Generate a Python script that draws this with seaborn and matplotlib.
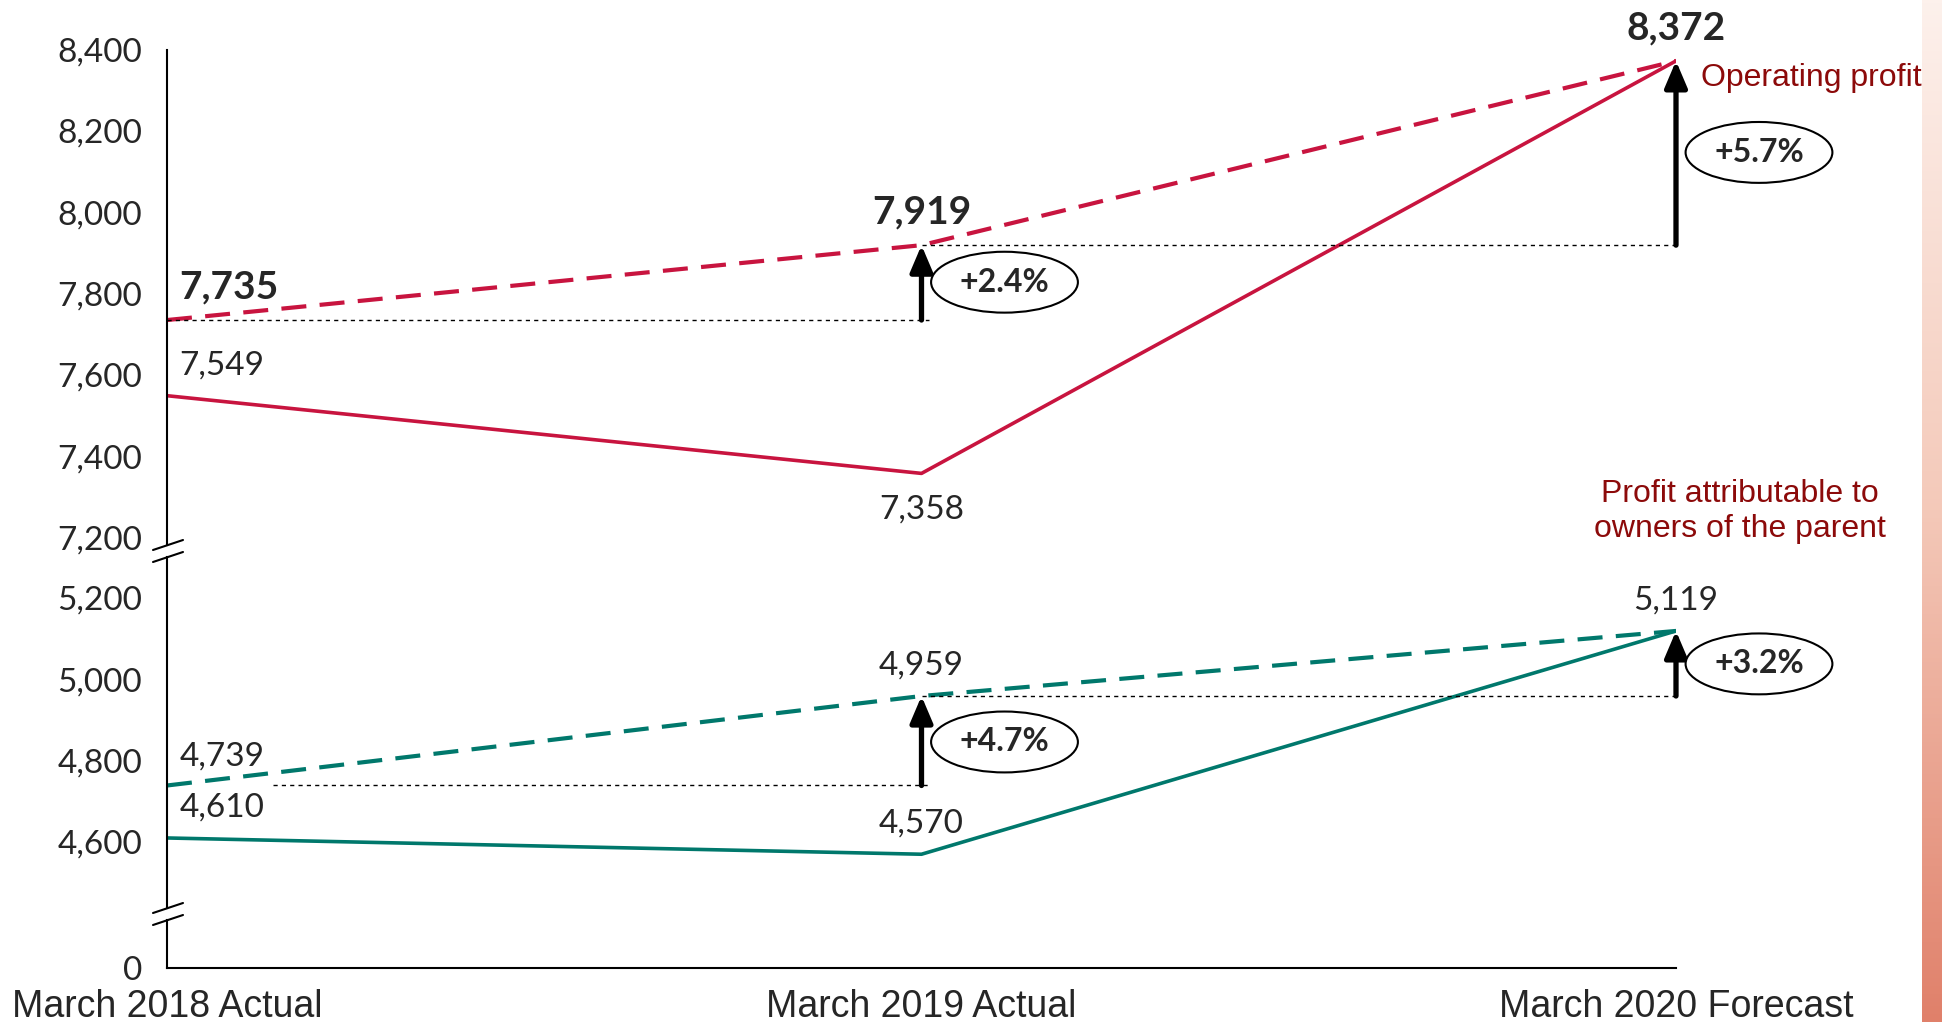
import numpy as np
import pandas as pd
import matplotlib
matplotlib.use('Agg')
import matplotlib.pyplot as plt
from matplotlib.lines import Line2D
from matplotlib.colors import LinearSegmentedColormap
import seaborn as sns

# data
periods = ['March 2018 Actual', 'March 2019 Actual', 'March 2020 Forecast']
op_plan = [7735, 7919, 8372]        # dashed line, operating profit
op_actual = [7549, 7358, 8372]      # solid line, operating profit
np_plan = [4739, 4959, 5119]        # dashed line, profit attributable to owners
np_actual = [4610, 4570, 5119]      # solid line
op_growth = ['+2.4%', '+5.7%']
np_growth = ['+4.7%', '+3.2%']
upper_ticks = [7200, 7400, 7600, 7800, 8000, 8200, 8400]
lower_ticks = [4600, 4800, 5000, 5200]

RED = '#C8143F'
TEAL = '#00786C'
DARKRED = '#8C0A0A'
NUM_FONT = ['Lato', 'DejaVu Sans']
TXT_FONT = ['Liberation Sans', 'DejaVu Sans']

sns.set_style('white')
plt.rcParams['font.family'] = NUM_FONT

W, H = 1942, 1022
fig = plt.figure(figsize=(W / 100, H / 100), dpi=100)
X0, X1 = 167, 1676


def px_axes(top, bottom):
    return fig.add_axes([X0 / W, 1 - bottom / H, (X1 - X0) / W, (bottom - top) / H])


ax_top = px_axes(49.5, 545)
ax_mid = px_axes(557, 908)
ax_bot = px_axes(920, 968)

x = np.arange(len(periods))
df = pd.DataFrame({'x': x, 'op_plan': op_plan, 'op_actual': op_actual,
                   'np_plan': np_plan, 'np_actual': np_actual})

dash = (0, (6, 3.2))
sns.lineplot(data=df, x='x', y='op_actual', ax=ax_top, color=RED, lw=2.6)
sns.lineplot(data=df, x='x', y='op_plan', ax=ax_top, color=RED, lw=3, linestyle=dash)
sns.lineplot(data=df, x='x', y='np_actual', ax=ax_mid, color=TEAL, lw=2.6)
sns.lineplot(data=df, x='x', y='np_plan', ax=ax_mid, color=TEAL, lw=3, linestyle=dash)

ax_top.set_ylim(7182, 8400)
ax_mid.set_ylim(4437.8, 5300.8)
ax_bot.set_ylim(0, 1)
for ax in (ax_top, ax_mid, ax_bot):
    ax.set_xlim(0, 2)
    ax.set_xlabel('')
    ax.set_ylabel('')
    for s in ('top', 'right', 'bottom'):
        ax.spines[s].set_visible(False)
    ax.spines['left'].set_color('black')
    ax.spines['left'].set_linewidth(1.5)
    ax.tick_params(axis='y', length=0, pad=18, labelsize=24)
    ax.patch.set_alpha(0)

ax_top.set_yticks(upper_ticks)
ax_top.set_yticklabels([f'{v:,}' for v in upper_ticks])
ax_mid.set_yticks(lower_ticks)
ax_mid.set_yticklabels([f'{v:,}' for v in lower_ticks])
ax_bot.set_yticks([0])
ax_bot.set_yticklabels(['0'])
ax_top.set_xticks([])
ax_mid.set_xticks([])
ax_bot.spines['bottom'].set_visible(True)
ax_bot.spines['bottom'].set_color('black')
ax_bot.spines['bottom'].set_linewidth(1.5)
ax_bot.set_xticks(x)
ax_bot.set_xticklabels(periods, family=TXT_FONT, fontsize=27)
ax_bot.tick_params(axis='x', length=0, pad=15)

# axis break marks
for yb in (545, 557, 908, 920):
    fig.add_artist(Line2D([153 / W, 183 / W], [1 - (yb + 5) / H, 1 - (yb - 5) / H],
                          color='black', lw=1.5))

# reference lines from previous value
ax_top.hlines(op_plan[0], 0, 1.01, color='black', lw=1, linestyles=(0, (3, 3)))
ax_top.hlines(op_plan[1], 1, 2.01, color='black', lw=1, linestyles=(0, (3, 3)))
ax_mid.hlines(np_plan[0], 0.14, 1.01, color='black', lw=1, linestyles=(0, (3, 3)))
ax_mid.hlines(np_plan[1], 1, 2.01, color='black', lw=1, linestyles=(0, (3, 3)))

arrow_kw = dict(arrowstyle='-|>,head_width=0.34,head_length=0.8', lw=3.8, color='black',
                shrinkA=0, shrinkB=0, mutation_scale=20)
for ax, plan in ((ax_top, op_plan), (ax_mid, np_plan)):
    for i in (1, 2):
        ax.annotate('', xy=(i, plan[i]), xytext=(i, plan[i - 1]),
                    arrowprops=arrow_kw, annotation_clip=False)

ell = dict(boxstyle='ellipse,pad=0.22', fc='white', ec='black', lw=1.5)
for ax, vals, labels, ys in ((ax_top, op_plan, op_growth, [7828, 8147]),
                             (ax_mid, np_plan, np_growth, [4846, 5038])):
    for j, i in enumerate((1, 2)):
        ax.text(i + 0.11, ys[j], labels[j], ha='center', va='center', fontsize=23,
                fontweight='bold', bbox=ell, clip_on=False)

# value labels
def lab(ax, xi, yv, dx, dy, ha='center', bold=False, size=24):
    ax.annotate(f'{yv:,}', xy=(xi, yv), xytext=(dx, dy), textcoords='offset points',
                ha=ha, va='center', fontsize=size, fontweight='bold' if bold else 'normal',
                annotation_clip=False)


lab(ax_top, 0, op_plan[0], 9, 24, ha='left', bold=True, size=28)
lab(ax_top, 1, op_plan[1], 0, 24, bold=True, size=28)
lab(ax_top, 2, op_plan[2], 0, 24, bold=True, size=28)
lab(ax_top, 0, op_actual[0], 9, 22, ha='left')
lab(ax_top, 1, op_actual[1], 0, -26)
lab(ax_mid, 0, np_plan[0], 9, 21, ha='left')
lab(ax_mid, 0, np_actual[0], 9, 22, ha='left')
lab(ax_mid, 1, np_plan[1], 0, 22)
lab(ax_mid, 1, np_actual[1], 0, 22)
lab(ax_mid, 2, np_plan[2], 0, 22)

ax_top.text(2.033, 8330, 'Operating profit', ha='left', va='center', color=DARKRED,
            fontsize=23, family=TXT_FONT, clip_on=False)
ax_top.text(2.085, 7264, 'Profit attributable to\nowners of the parent', ha='center',
            va='center', color=DARKRED, fontsize=23, family=TXT_FONT,
            linespacing=1.2, clip_on=False)

# decorative strip at the right edge
strip = fig.add_axes([1922 / W, 0, 20 / W, 1])
cmap = LinearSegmentedColormap.from_list('s', ['#fdf1ec', '#f4c9b9', '#e0806a'])
strip.imshow(np.linspace(0, 1, 256).reshape(-1, 1), aspect='auto', cmap=cmap)
strip.axis('off')

fig.savefig('out.png', dpi=100)
